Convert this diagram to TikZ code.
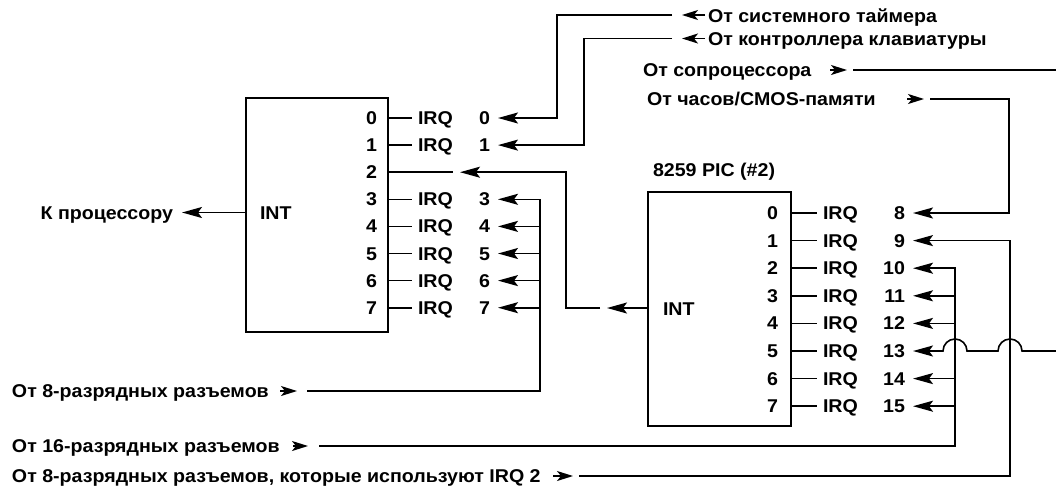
\documentclass[tikz,border=0pt]{standalone}
\usepackage{fontspec}
\setmainfont{Liberation Sans}[FakeStretch=1.06]
\usetikzlibrary{arrows.meta,calc}
\begin{document}
\begin{tikzpicture}[x=1pt,y=-1pt,
  txt/.style={font=\bfseries\fontsize{18.5}{20}\selectfont, inner sep=0pt, outer sep=0pt},
  chip/.style={draw, line width=2.6pt, inner sep=0pt, outer sep=0pt, anchor=north west},
  wire/.style={line width=1.6pt},
  arr/.style={wire, -{Stealth[length=20pt, width=11pt, inset=4pt]}},
  marker/.style={wire, -{Stealth[length=16pt, width=10pt, inset=4pt]}},
]
\clip (0,0) rectangle (1056,488);
\fill[white] (0,0) rectangle (1056,488);

% chips
\node[chip, minimum width=142pt, minimum height=234pt] (chipA) at (246,98) {};
\node[chip, minimum width=143pt, minimum height=234pt] (chipB) at (648,192) {};
\node[txt, anchor=base west] (picB) at (653,176) {8259 PIC (\#2)};
\node[txt, anchor=base west] (intA) at (260,219) {INT};
\node[txt, anchor=base west] (intB) at (663,315) {INT};

% left chip pins
\foreach \i in {0,...,7}{
  \pgfmathsetmacro\yy{118+27.1*\i}
  \node[txt, anchor=base east] (pa\i) at (377,\yy+6.5) {\i};
  \coordinate (ea\i) at (388,\yy);
}
\foreach \i in {0,1,3,4,5,6,7}{
  \pgfmathsetmacro\yy{118+27.1*\i}
  \node[txt, anchor=base west] (qa\i) at (418,\yy+6.5) {IRQ};
  \node[txt, anchor=base east] (na\i) at (490,\yy+6.5) {\i};
  \draw[wire] (ea\i) -- ++(24,0);
  \coordinate (ta\i) at (498,\yy);
}
\draw[wire] (ea2) -- ++(65,0);
\coordinate (ta2) at (460,172.2);

% right chip pins
\foreach \i in {0,...,7}{
  \pgfmathsetmacro\yy{213+27.6*\i}
  \pgfmathtruncatemacro\nn{\i+8}
  \node[txt, anchor=base east] (pb\i) at (778,\yy+6.5) {\i};
  \coordinate (eb\i) at (791,\yy);
  \draw[wire] (eb\i) -- ++(26,0);
  \node[txt, anchor=base west] (qb\i) at (823,\yy+6.5) {IRQ};
  \node[txt, anchor=base east] (nb\i) at (905,\yy+6.5) {\nn};
  \coordinate (tb\i) at (913,\yy);
}

% labels
\node[txt, anchor=base east] (proc) at (173,219) {К процессору};
\node[txt, anchor=base west] (tmr) at (708,22) {От системного таймера};
\node[txt, anchor=base west] (kbd) at (708,45) {От контроллера клавиатуры};
\node[txt, anchor=base west] (copr) at (643,76.5) {От сопроцессора};
\node[txt, anchor=base west] (cmos) at (647,105.5) {От часов/CMOS-памяти};
\node[txt, anchor=base west] (s8) at (12,397.5) {От 8-разрядных разъемов};
\node[txt, anchor=base west] (s16) at (12,452.5) {От 16-разрядных разъемов};
\node[txt, anchor=base west] (s8b) at (12,482.5) {От 8-разрядных разъемов, которые используют IRQ 2};

% to processor
\coordinate (procTip) at (182,212.5);
\draw[arr] (chipA.west |- procTip) -- (procTip);

% timer and keyboard
\draw[marker] ($(tmr.base west)+(-3,-7)$) -- ++(-23,0);
\draw[marker] ($(kbd.base west)+(-3,-6.5)$) -- ++(-23,0);
\coordinate (vT) at (557,15);
\coordinate (vK) at (584,38.5);
\draw[arr] ($(tmr.base west)+(-36,-7)$) -- (vT) -- (vT |- ta0) -- (ta0);
\draw[arr] ($(kbd.base west)+(-36,-6.5)$) -- (vK) -- (vK |- ta1) -- (ta1);

% slave INT to IRQ2
\coordinate (intTipB) at (607,308);
\draw[arr] (chipB.west |- intTipB) -- (intTipB);
\coordinate (jB) at (600,308);
\coordinate (jA) at (566,172.2);
\draw[arr] (jB) -- (jB -| jA) -- (jA) -- (ta2);

% 8-bit slots bus
\coordinate (m8) at (280,391);
\draw[marker] (m8) -- ++(17,0);
\coordinate (vA) at (540,391);
\draw[wire] (m8) ++(27,0) -- (vA) -- (vA |- ta3);
\foreach \i in {3,...,7}{ \draw[arr] (vA |- ta\i) -- (ta\i); }

% CMOS -> IRQ8
\coordinate (mC) at (907,99);
\draw[marker] (mC) -- ++(17,0);
\coordinate (vC) at (1009,99);
\draw[arr] (mC) ++(23,0) -- (vC) -- (vC |- tb0) -- (tb0);

% 8-bit slots using IRQ2 -> IRQ9
\coordinate (m8b) at (553,476);
\draw[marker] (m8b) -- ++(20,0);
\coordinate (vD) at (1010,476);
\draw[arr] (m8b) ++(26,0) -- (vD) -- (vD |- tb1) -- (tb1);

% 16-bit slots bus
\coordinate (m16) at (293,446);
\draw[marker] (m16) -- ++(15,0);
\coordinate (vE) at (955,446);
\draw[arr] (m16) ++(26,0) -- (vE) -- (vE |- tb2) -- (tb2);
\foreach \i in {3,4,6,7}{ \draw[arr] (vE |- tb\i) -- (tb\i); }

% coprocessor -> IRQ13 with humps
\coordinate (mP) at (830,70);
\draw[marker] (mP) -- ++(17,0);
\coordinate (vF) at (1064,70);
\draw[arr] (mP) ++(23,0) -- (vF) -- (vF |- tb5)
  -- ($(vD |- tb5)+(12,0)$) arc[start angle=0, end angle=-180, radius=12]
  -- ($(vE |- tb5)+(12,0)$) arc[start angle=0, end angle=-180, radius=12]
  -- (tb5);
\end{tikzpicture}
\end{document}
